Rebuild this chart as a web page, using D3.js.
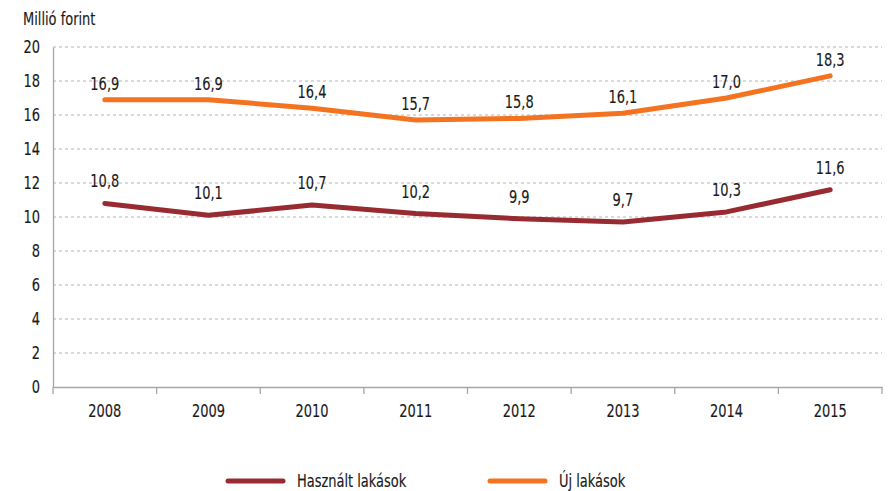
<!DOCTYPE html>
<html>
<head>
<meta charset="utf-8">
<script src="https://cdn.jsdelivr.net/npm/d3@7"></script>
<style>
  html, body { margin: 0; padding: 0; background: #fff; }
  svg { display: block; font-family: "DejaVu Sans Condensed", "Liberation Sans Narrow", "Noto Sans", sans-serif; }
  svg text { transform-box: fill-box; transform: scaleX(0.78); stroke: #1a1a1a; stroke-width: 0.15px; }
  svg text.a-start { transform-origin: left center; }
  svg text.a-middle { transform-origin: center center; }
  svg text.a-end { transform-origin: right center; }
</style>
</head>
<body>
<svg id="chart" width="894" height="491"></svg>
<script>
// Átlagos lakásárak (millió forint)
const years = ["2008", "2009", "2010", "2011", "2012", "2013", "2014", "2015"];
const hasznalt = [10.8, 10.1, 10.7, 10.2, 9.9, 9.7, 10.3, 11.6];
const uj = [16.9, 16.9, 16.4, 15.7, 15.8, 16.1, 17.0, 18.3];
const yTicks = [0, 2, 4, 6, 8, 10, 12, 14, 16, 18, 20];
const seriesNames = ["Használt lakások", "Új lakások"];
const seriesColors = ["#982b32", "#f47321"];

const fontSize = 18.5;
const textColor = "#1a1a1a";

const svg = d3.select("#chart");
const plotLeft = 53, plotRight = 882, plotTop = 47, plotBottom = 387;

const x = d3.scaleBand().domain(years).range([plotLeft, plotRight]);
const y = d3.scaleLinear().domain([0, 20]).range([plotBottom, plotTop]);

// Vízszintes segédvonalak
svg.append("g")
  .selectAll("line")
  .data(yTicks.filter(d => d > 0))
  .join("line")
  .attr("x1", plotLeft).attr("x2", plotRight)
  .attr("y1", d => y(d)).attr("y2", d => y(d))
  .attr("stroke", "#b3b3b3")
  .attr("stroke-width", 1)
  .attr("stroke-dasharray", "3,3");

// Y tengely
const yAxis = svg.append("g")
  .attr("transform", `translate(${plotLeft},0)`)
  .call(d3.axisLeft(y).tickValues(yTicks).tickSize(0).tickPadding(13));
yAxis.attr("font-family", null);
yAxis.select(".domain").attr("stroke", "#a6a6a6").attr("stroke-width", 1.3);
yAxis.selectAll("text").attr("class", "a-end")
  .attr("font-size", fontSize).attr("fill", textColor);

// X tengely, osztásjelek a kategóriák határán
const xAxis = svg.append("g")
  .attr("transform", `translate(0,${plotBottom})`)
  .call(d3.axisBottom(x).tickSize(0).tickPadding(17));
xAxis.attr("font-family", null);
xAxis.select(".domain").attr("stroke", "#a6a6a6").attr("stroke-width", 1.3);
xAxis.selectAll("text").attr("class", "a-middle")
  .attr("font-size", fontSize).attr("fill", textColor);
const bounds = years.map(d => x(d)).concat([x(years[years.length - 1]) + x.bandwidth()]);
svg.append("g")
  .selectAll("line")
  .data(bounds)
  .join("line")
  .attr("x1", d => d).attr("x2", d => d)
  .attr("y1", plotBottom).attr("y2", plotBottom + 7)
  .attr("stroke", "#a6a6a6").attr("stroke-width", 1.3);

// Tengelycím
svg.append("text")
  .attr("class", "a-start")
  .attr("x", 23).attr("y", 25)
  .attr("font-size", fontSize).attr("fill", textColor)
  .text("Millió forint");

// Vonalak és adatfeliratok
const series = [
  { name: seriesNames[0], values: hasznalt, color: seriesColors[0], labelOffset: 16 },
  { name: seriesNames[1], values: uj, color: seriesColors[1], labelOffset: 10 }
];
const cx = d => x(d) + x.bandwidth() / 2;
const line = d3.line().x((d, i) => cx(years[i])).y(d => y(d));

series.forEach(s => {
  svg.append("path")
    .attr("d", line(s.values))
    .attr("fill", "none")
    .attr("stroke", s.color)
    .attr("stroke-width", 5)
    .attr("stroke-linecap", "round")
    .attr("stroke-linejoin", "round");
  svg.append("g")
    .selectAll("text")
    .data(s.values)
    .join("text")
    .attr("class", "a-middle")
    .attr("x", (d, i) => cx(years[i]))
    .attr("y", d => y(d) - s.labelOffset)
    .attr("text-anchor", "middle")
    .attr("font-size", fontSize)
    .attr("fill", textColor)
    .text(d => d.toFixed(1).replace(".", ","));
});

// Jelmagyarázat
const legendX = [228, 490];
const legend = svg.append("g")
  .selectAll("g")
  .data(series)
  .join("g")
  .attr("transform", (d, i) => `translate(${legendX[i]},481)`);
legend.append("line")
  .attr("x1", 0).attr("x2", 55).attr("y1", 0).attr("y2", 0)
  .attr("stroke", d => d.color).attr("stroke-width", 5)
  .attr("stroke-linecap", "round");
legend.append("text")
  .attr("class", "a-start")
  .attr("x", 69).attr("y", 6)
  .attr("font-size", fontSize).attr("fill", textColor)
  .text(d => d.name);
</script>
</body>
</html>
